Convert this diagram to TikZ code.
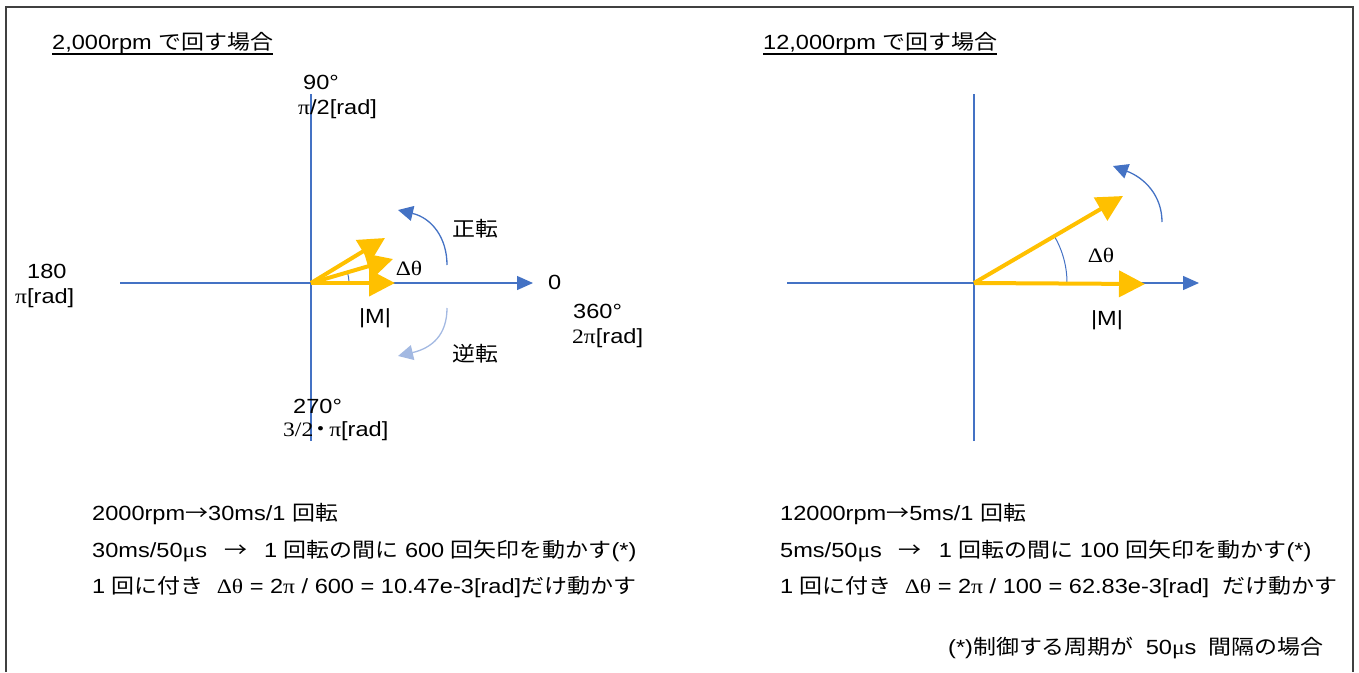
\documentclass[tikz,border=0pt]{standalone}
\usepackage{fontspec}
\setmainfont{Liberation Sans}[FakeStretch=1.15]
\newfontfamily\jp{Noto Sans CJK JP}[FakeStretch=1.12]
\newfontfamily\gr{Liberation Serif}[FakeStretch=1.15]
\usetikzlibrary{arrows.meta}
\definecolor{axblue}{HTML}{4472C4}
\definecolor{myellow}{HTML}{FFC000}
\definecolor{lblue}{HTML}{A3B9E2}
\definecolor{frame}{HTML}{404040}
\newcommand{\sparrow}{\hspace{17pt}{\jp →}\hspace{17pt}}
\tikzset{
  axisline/.style={draw=axblue, line width=1.3pt},
  axisarrow/.style={axisline, -{Triangle[length=16pt,width=14pt]}},
  vec/.style={draw=myellow, line width=4pt, -{Triangle[length=26pt,width=26pt]}},
  rotarrow/.style={axisline, -{Triangle[length=15pt,width=15pt]}},
  rotlight/.style={draw=lblue, line width=1.3pt, -{Triangle[length=15pt,width=15pt]}},
  anglearc/.style={draw=axblue, line width=1pt},
  lbl/.style={font=\fontsize{20.5}{24}\selectfont, inner sep=0pt},
  txt/.style={lbl, anchor=base west},
  ttl/.style={font=\fontsize{20.5}{24}\selectfont, inner sep=0pt, anchor=base west},
}
\begin{document}
\begin{tikzpicture}[x=1pt,y=-1pt]
\useasboundingbox (0,0) rectangle (1359,672);
% frame
\draw[frame, line width=1.3pt] (6,672) -- (6,7) -- (1353,7) -- (1353,672);

% ---------- left ----------
\node[ttl] (t1) at (52,49) {2,000rpm {\jp で回す場合}};
\draw[line width=1.2pt] ([yshift=-5pt]t1.base west) -- ([yshift=-5pt]t1.base east);

\coordinate (O1) at (311,283);
\coordinate (Yt1) at (311,94);
\coordinate (Yb1) at (311,441);
\coordinate (Xl1) at (120,283);
\coordinate (Xr1) at (533,283);
\draw[axisline] (Yb1) -- (Yt1);
\draw[axisarrow] (Xl1) -- (Xr1);

\coordinate (Va) at (395,283);
\coordinate (Vb) at (393,259);
\coordinate (Vc) at (385,238);
\draw[anglearc] (349,283) .. controls (349,279.5) and (348.5,276) .. (347.5,272.5);
\draw[vec] (O1) -- (Vc);
\draw[vec] (O1) -- (Vb);
\draw[vec] (O1) -- (Va);

\coordinate (Fs) at (447,265);
\coordinate (Fe) at (398,210);
\draw[rotarrow] (Fs) .. controls (447,238) and (432,218) .. (Fe);
\coordinate (Rs) at (447,308);
\coordinate (Re) at (398,356);
\draw[rotlight] (Rs) .. controls (447,335) and (432,348) .. (Re);

\node[txt] (l90) at (303,89) {90°};
\node[txt] (lpi2) at (298,114) {{\gr π}/2[rad]};
\node[txt] (l180) at (27,278) {180};
\node[txt] (lpi) at (15,303) {{\gr π}[rad]};
\node[txt] (l0) at (548,289) {0};
\node[txt] (l360) at (573,318) {360°};
\node[txt] (l2pi) at (572,343) {{\gr 2π}[rad]};
\node[txt] (l270) at (293,413) {270°};
\node[txt] (l32) at (283,436) {{\gr 3/2}\kern-3.5pt{\jp ・}\kern-3.5pt{\gr π}[rad]};
\node[lbl] (m1) at (375,318) {|M|};
\node[lbl] (d1) at (409,268) {\gr Δθ};
\node[lbl] (fw) at (475,229) {\jp 正転};
\node[lbl] (rv) at (475,354) {\jp 逆転};

\node[txt] (a1) at (92,520) {2000rpm{\jp →}30ms/1 {\jp 回転}};
\node[txt] (a2) at (92,557) {30ms/50{\gr μ}s\sparrow 1 {\jp 回転の間に} 600 {\jp 回矢印を動かす}(*)};
\node[txt] (a3) at (92,593) {1 {\jp 回に付き} \ {\gr Δθ} = 2{\gr π} / 600 = 10.47e-3[rad]{\jp だけ動かす}};

% ---------- right ----------
\node[ttl] (t2) at (763,49) {12,000rpm {\jp で回す場合}};
\draw[line width=1.2pt] ([yshift=-5pt]t2.base west) -- ([yshift=-5pt]t2.base east);

\coordinate (O2) at (974,283);
\coordinate (Yt2) at (974,94);
\coordinate (Yb2) at (974,441);
\coordinate (Xl2) at (787,283);
\coordinate (Xr2) at (1199,283);
\draw[axisline] (Yb2) -- (Yt2);
\draw[axisarrow] (Xl2) -- (Xr2);

\coordinate (Wa) at (1145,284);
\coordinate (Wb) at (1123,196);
\draw[anglearc] (1067,283) .. controls (1067,266.7) and (1062.7,250.6) .. (1054.5,236.5);
\draw[vec] (O2) -- (Wb);
\draw[vec] (O2) -- (Wa);

\coordinate (Gs) at (1162,222);
\coordinate (Ge) at (1113,166);
\draw[rotarrow] (Gs) .. controls (1162,196) and (1145,178) .. (Ge);

\node[lbl] (d2) at (1101,255) {\gr Δθ};
\node[lbl] (m2) at (1107,320) {|M|};

\node[txt] (b1) at (780,520) {12000rpm{\jp →}5ms/1 {\jp 回転}};
\node[txt] (b2) at (780,557) {5ms/50{\gr μ}s\sparrow 1 {\jp 回転の間に} 100 {\jp 回矢印を動かす}(*)};
\node[txt] (b3) at (780,593) {1 {\jp 回に付き} \ {\gr Δθ} = 2{\gr π} / 100 = 62.83e-3[rad] \ {\jp だけ動かす}};
\node[txt] (fn) at (948,654) {(*){\jp 制御する周期が}\hspace{12pt}50{\gr μ}s\hspace{12pt}{\jp 間隔の場合}};
\end{tikzpicture}
\end{document}
